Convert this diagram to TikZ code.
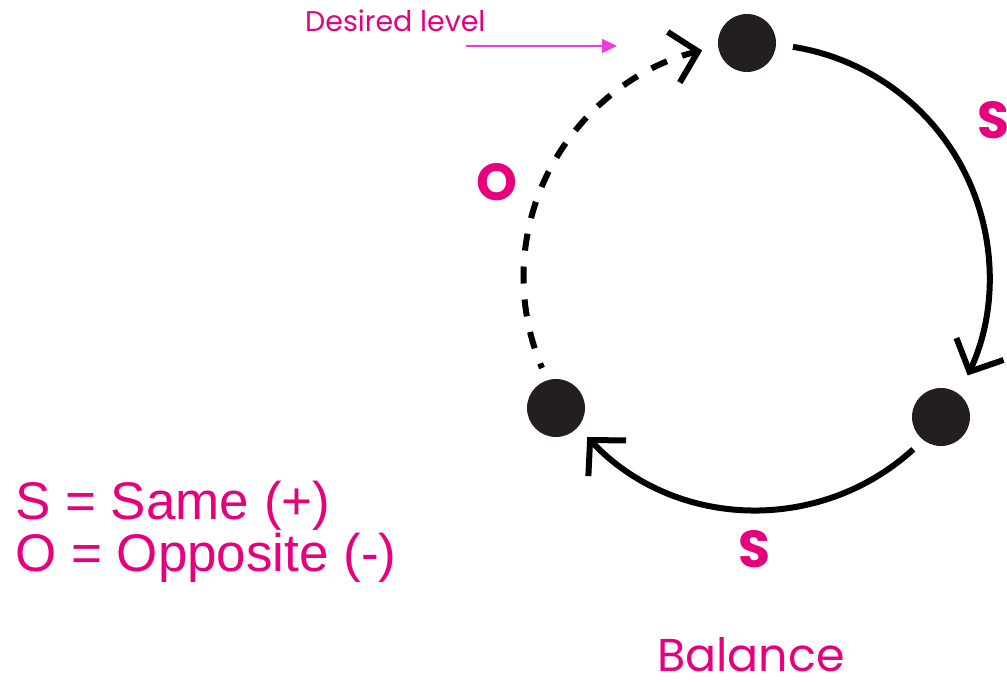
\documentclass[tikz,border=0pt]{standalone}
\usepackage{fontspec}
\setmainfont{Liberation Sans}
\newfontfamily\geo{Poppins}
\usetikzlibrary{arrows.meta}
\definecolor{mag}{RGB}{230,0,126}
\definecolor{pinkarrow}{RGB}{240,58,222}
\definecolor{dotc}{RGB}{35,31,32}
\begin{document}
\begin{tikzpicture}[x=1pt,y=1pt,
  dotnode/.style={circle,fill=dotc,inner sep=0pt,minimum size=58pt},
  loopline/.style={line width=6pt,black,-{Straight Barb[length=25pt,width=52pt,line width=6pt]}},
  dashline/.style={loopline,dash pattern=on 17pt off 16pt,dash phase=12pt},
  lab/.style={text=mag,font=\geo\bfseries\fontsize{52}{52}\selectfont,inner sep=0pt},
  legend/.style={text=mag,font=\fontsize{53}{53}\selectfont,inner sep=0pt,anchor=base west}]
\useasboundingbox (0,0) rectangle (1007,682);
\coordinate (c) at (756.5,405);
\node[dotnode] (top) at (747,639) {};
\node[dotnode] (right) at (941,265) {};
\node[dotnode] (left) at (556,274) {};
% arcs
\coordinate (r1) at ([shift={(81:233)}]c);
\draw[loopline] (r1) arc[start angle=81,end angle=-25,radius=233];
\coordinate (b1) at ([shift={(-47.7:233)}]c);
\draw[loopline] (b1) arc[start angle=-47.7,end angle=-136.6,radius=233];
\coordinate (l1) at ([shift={(203:233)}]c);
\draw[dashline] (l1) arc[start angle=203,end angle=103.5,radius=233];
% labels
\node[lab,anchor=west] (sr) at (977,562) {S};
\node[lab] (sb) at (754,133) {S};
\node[lab] (ol) at (497,500) {O};
\node[text=mag,font=\geo\fontsize{46}{46}\selectfont,inner sep=0pt,anchor=base west] (bal) at (657,10) {Balance};
\node[text=mag,font=\geo\fontsize{28.5}{28.5}\selectfont,inner sep=0pt,anchor=base west] (des) at (305,650) {Desired level};
\coordinate (da) at (466,636);
\coordinate (db) at (617,636);
\draw[pinkarrow,line width=1.5pt,-{Triangle[length=15pt,width=14pt]}] (da) -- (db);
\node[legend] (l1t) at (15,162) {S = Same (+)};
\node[legend] (l2t) at (15,110) {O = Opposite (-)};
\end{tikzpicture}
\end{document}
